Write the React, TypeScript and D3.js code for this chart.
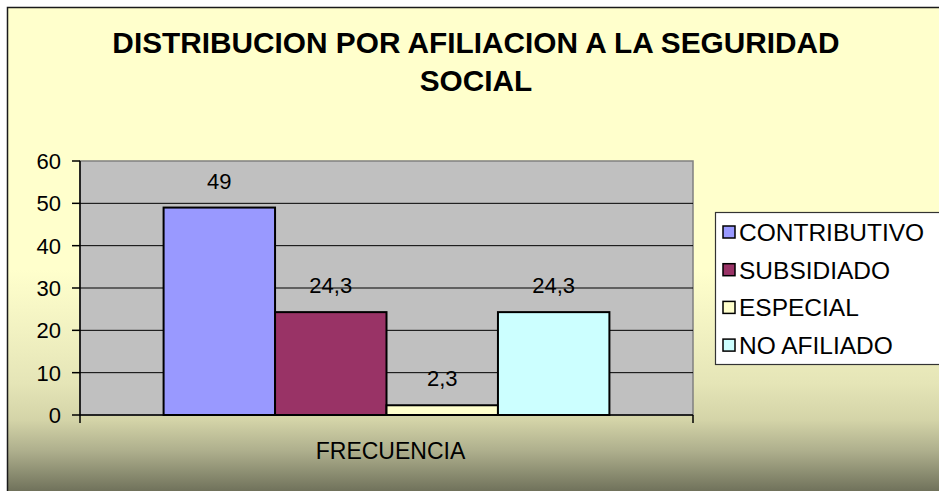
import React from "react";
import * as d3 from "d3";

const title = ["DISTRIBUCION POR AFILIACION A LA SEGURIDAD", "SOCIAL"];
const categories = ["FRECUENCIA"];
const seriesNames = ["CONTRIBUTIVO", "SUBSIDIADO", "ESPECIAL", "NO AFILIADO"];
const seriesValues = [49, 24.3, 2.3, 24.3];
const seriesLabels = ["49", "24,3", "2,3", "24,3"];
const seriesColors = ["#9999FF", "#993366", "#FFFFCC", "#CCFFFF"];
const yTicks = [0, 10, 20, 30, 40, 50, 60];

const W = 939;
const H = 491;
const FONT = "'Liberation Sans', Arial, Helvetica, sans-serif";

export default function App() {
  const plot = { x0: 80, x1: 693, y0: 161, y1: 415 };
  const y = d3.scaleLinear().domain([0, 60]).range([plot.y1, plot.y0]);
  const xCat = d3.scaleBand().domain(categories).range([plot.x0, plot.x1]).padding(0);
  const xSer = d3
    .scaleBand()
    .domain(seriesNames)
    .range([xCat(categories[0])!, xCat(categories[0])! + xCat.bandwidth()])
    .paddingInner(0)
    .paddingOuter(0.75);

  const legend = { x: 715, y: 212, h: 152, rowStep: 37.7, firstBase: 241 };

  return (
    <svg
      width={W}
      height={H}
      style={{ position: "absolute", left: 0, top: 0, display: "block" }}
      fontFamily={FONT}
    >
      <defs>
        <linearGradient id="bg" x1="0" y1="0" x2="0" y2={H} gradientUnits="userSpaceOnUse">
          <stop offset="0" stopColor="#FFFFCC" />
          <stop offset="0.55" stopColor="#FFFFCC" />
          <stop offset="0.67" stopColor="#F2F2C2" />
          <stop offset="0.78" stopColor="#E5E5B7" />
          <stop offset="0.855" stopColor="#D4D4A8" />
          <stop offset="0.92" stopColor="#ADAE8C" />
          <stop offset="1" stopColor="#70725B" />
        </linearGradient>
      </defs>
      <rect x={0} y={0} width={W} height={H} fill="#FFFFFF" />
      <rect x={7.5} y={7.5} width={W + 20} height={H + 20} fill="url(#bg)" stroke="#1a1a1a" strokeWidth={1.5} />

      {/* title */}
      {title.map((t, i) => (
        <text
          key={i}
          x={476}
          y={53 + i * 38}
          textAnchor="middle"
          fontSize={29.8}
          fontWeight="bold"
          fill="#000"
        >
          {t}
        </text>
      ))}

      {/* plot area */}
      <rect
        x={plot.x0}
        y={plot.y0}
        width={plot.x1 - plot.x0}
        height={plot.y1 - plot.y0}
        fill="#C0C0C0"
        stroke="#808080"
        strokeWidth={1.5}
      />
      {yTicks
        .filter((t) => t > 0 && t < 60)
        .map((t) => (
          <line key={t} x1={plot.x0} x2={plot.x1} y1={y(t)} y2={y(t)} stroke="#000" strokeWidth={1} />
        ))}

      {/* bars */}
      {seriesNames.map((s, i) => (
        <rect
          key={s}
          x={xSer(s)!}
          y={y(seriesValues[i])}
          width={xSer.bandwidth()}
          height={y(0) - y(seriesValues[i])}
          fill={seriesColors[i]}
          stroke="#000"
          strokeWidth={2}
        />
      ))}
      {seriesNames.map((s, i) => (
        <text
          key={s}
          x={xSer(s)! + xSer.bandwidth() / 2}
          y={y(seriesValues[i]) - 19}
          textAnchor="middle"
          fontSize={22}
          fill="#000"
        >
          {seriesLabels[i]}
        </text>
      ))}

      {/* axes */}
      <line x1={plot.x0} x2={plot.x0} y1={plot.y0} y2={plot.y1 + 8} stroke="#000" strokeWidth={1.5} />
      <line x1={plot.x0} x2={plot.x1} y1={plot.y1} y2={plot.y1} stroke="#000" strokeWidth={1.5} />
      <line x1={plot.x1} x2={plot.x1} y1={plot.y1} y2={plot.y1 + 8} stroke="#000" strokeWidth={1.5} />
      {yTicks.map((t) => (
        <g key={t}>
          <line x1={plot.x0 - 8} x2={plot.x0} y1={y(t)} y2={y(t)} stroke="#000" strokeWidth={1.5} />
          <text x={61} y={y(t) + 8} textAnchor="end" fontSize={22} fill="#000">
            {t}
          </text>
        </g>
      ))}
      <text x={(plot.x0 + plot.x1) / 2 + 4} y={459} textAnchor="middle" fontSize={23} fill="#000">
        {categories[0]}
      </text>

      {/* legend */}
      <rect
        x={legend.x + 0.5}
        y={legend.y + 0.5}
        width={300}
        height={legend.h}
        fill="#FFFFFF"
        stroke="#333"
        strokeWidth={1.2}
      />
      {seriesNames.map((s, i) => {
        const base = legend.firstBase + i * legend.rowStep;
        return (
          <g key={s}>
            <rect x={723} y={base - 15} width={12} height={12} fill={seriesColors[i]} stroke="#000" strokeWidth={1.5} />
            <text x={739} y={base} fontSize={24.5} fill="#000">
              {s}
            </text>
          </g>
        );
      })}
    </svg>
  );
}
